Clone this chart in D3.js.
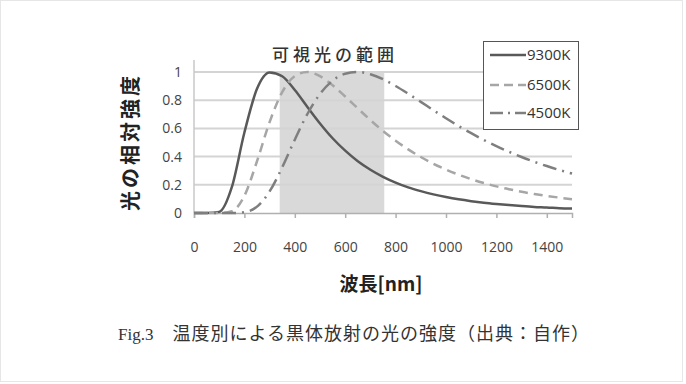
<!DOCTYPE html>
<html>
<head>
<meta charset="utf-8">
<script src="https://cdn.jsdelivr.net/npm/d3@7"></script>
<style>
  body { margin: 0; background: #fff; }
  svg { display: block; font-family: "Noto Sans CJK JP", "Noto Sans", sans-serif; }
</style>
</head>
<body>
<svg id="chart" width="686" height="384"></svg>
<script>
// wavelength [nm], every 50 nm
const wavelengths = [0, 50, 100, 150, 200, 250, 300, 350, 400, 450, 500, 550, 600, 650, 700, 750,
  800, 850, 900, 950, 1000, 1050, 1100, 1150, 1200, 1250, 1300, 1350, 1400, 1450, 1500];

const k9300 = [0, 0, 0.008, 0.183, 0.571, 0.881, 0.997, 0.970, 0.872, 0.752, 0.635, 0.530, 0.442, 0.367, 0.307, 0.257,
  0.216, 0.182, 0.155, 0.132, 0.113, 0.097, 0.084, 0.073, 0.064, 0.056, 0.049, 0.043, 0.039, 0.034, 0.031];
const k6500 = [0, 0, 0, 0.013, 0.122, 0.367, 0.645, 0.857, 0.971, 1.000, 0.970, 0.906, 0.826, 0.742, 0.659, 0.582,
  0.513, 0.451, 0.397, 0.349, 0.308, 0.272, 0.240, 0.213, 0.189, 0.169, 0.150, 0.135, 0.121, 0.109, 0.098];
const k4500 = [0, 0, 0, 0, 0.006, 0.045, 0.153, 0.324, 0.520, 0.702, 0.844, 0.939, 0.988, 1.000, 0.984, 0.949,
  0.901, 0.846, 0.788, 0.729, 0.672, 0.617, 0.566, 0.518, 0.474, 0.434, 0.397, 0.363, 0.333, 0.305, 0.280];

const seriesNames = ['9300K', '6500K', '4500K'];
const xTicks = [0, 200, 400, 600, 800, 1000, 1200, 1400];
const yTicks = [0, 0.2, 0.4, 0.6, 0.8, 1];
const visibleBand = [340, 755];

const svg = d3.select('#chart');

// faint frame of the picture
svg.append('rect')
  .attr('x', 0.5).attr('y', 0.5)
  .attr('width', 682).attr('height', 381)
  .attr('fill', 'none')
  .attr('stroke', '#e6e6e6');

const x = d3.scaleLinear().domain([0, 1500]).range([194, 572]);
const y = d3.scaleLinear().domain([0, 1]).range([213, 72]);

// visible band
svg.append('rect')
  .attr('x', x(visibleBand[0]))
  .attr('y', y(1))
  .attr('width', x(visibleBand[1]) - x(visibleBand[0]))
  .attr('height', y(0) - y(1))
  .attr('fill', '#d9d9d9');

// grid lines
svg.append('g')
  .selectAll('line')
  .data(yTicks.filter(d => d > 0))
  .join('line')
    .attr('x1', x(0)).attr('x2', x(1500))
    .attr('y1', d => y(d)).attr('y2', d => y(d))
    .attr('stroke', '#d4d4d4')
    .attr('stroke-width', 2);

// y axis line
svg.append('line')
  .attr('x1', x(0)).attr('x2', x(0))
  .attr('y1', 60).attr('y2', y(0))
  .attr('stroke', '#c8c8c8')
  .attr('stroke-width', 1.5);

// x axis
const xAxis = svg.append('g')
  .attr('transform', `translate(0, ${y(0)})`)
  .call(d3.axisBottom(x).tickValues(xTicks).tickSize(5).tickPadding(24).tickFormat(d3.format('d')));
xAxis.select('.domain').attr('stroke', '#b0b0b0').attr('stroke-width', 1.5);
xAxis.selectAll('.tick line').attr('stroke', '#b0b0b0').attr('stroke-width', 1.5);
xAxis.selectAll('text')
  .attr('fill', '#444')
  .style('font-size', '14px')
  .style('font-family', '"Open Sans", "Noto Sans", sans-serif');

// y labels
const yAxis = svg.append('g')
  .attr('transform', `translate(${x(0)}, 0)`)
  .call(d3.axisLeft(y).tickValues(yTicks).tickSize(0).tickPadding(12).tickFormat(d3.format('~g')));
yAxis.select('.domain').remove();
yAxis.selectAll('text')
  .attr('fill', '#444')
  .style('font-size', '14px')
  .style('font-family', '"Open Sans", "Noto Sans", sans-serif');

// curves
const line = d3.line()
  .x((d, i) => x(wavelengths[i]))
  .y(d => y(d))
  .curve(d3.curveMonotoneX);

const styles = [
  { data: k9300, color: '#595959', dash: null, legendDash: null, width: 2.5 },
  { data: k6500, color: '#a6a6a6', dash: '9,6', legendDash: '9,5', width: 2.5 },
  { data: k4500, color: '#7f7f7f', dash: '14,6,2,6', legendDash: '13,5,2,5', width: 2.5 }
];

svg.append('g')
  .selectAll('path')
  .data(styles)
  .join('path')
    .attr('d', d => line(d.data))
    .attr('fill', 'none')
    .attr('stroke', d => d.color)
    .attr('stroke-width', d => d.width)
    .attr('stroke-dasharray', d => d.dash);

// band title
svg.append('text')
  .attr('x', 335).attr('y', 61)
  .attr('text-anchor', 'middle')
  .attr('fill', '#333')
  .style('font-size', '17px')
  .style('letter-spacing', '4px')
  .style('font-weight', 500)
  .text('可視光の範囲');

// legend
const legend = svg.append('g');
legend.append('rect')
  .attr('x', 483.5).attr('y', 41.5)
  .attr('width', 95).attr('height', 88)
  .attr('fill', '#fff')
  .attr('stroke', '#555');
const legendY = [55, 85, 113];
const item = legend.selectAll('g.item')
  .data(styles)
  .join('g')
    .attr('class', 'item')
    .attr('transform', (d, i) => `translate(0, ${legendY[i]})`);
item.append('line')
  .attr('x1', 490).attr('x2', 526)
  .attr('stroke', d => d.color)
  .attr('stroke-width', d => d.width)
  .attr('stroke-dasharray', d => d.legendDash);
item.append('text')
  .attr('x', 527).attr('dy', '0.35em')
  .attr('fill', '#333')
  .style('font-size', '15px')
  .style('font-family', '"Open Sans", "Noto Sans", sans-serif')
  .text((d, i) => seriesNames[i]);

// axis titles
svg.append('text')
  .attr('transform', 'translate(138, 142) rotate(-90)')
  .attr('text-anchor', 'middle')
  .attr('fill', '#222')
  .style('font-size', '20px')
  .style('font-weight', 'bold')
  .style('letter-spacing', '3px')
  .text('光の相対強度');

svg.append('text')
  .attr('x', 381).attr('y', 291)
  .attr('text-anchor', 'middle')
  .attr('fill', '#222')
  .style('font-size', '19px')
  .style('font-weight', 'bold')
  .text('波長[nm]');

// caption
const cap = svg.append('text')
  .attr('x', 118).attr('y', 340)
  .attr('fill', '#333')
  .style('font-size', '18px');
cap.append('tspan')
  .style('font-family', '"Liberation Serif", serif')
  .style('font-size', '17px')
  .text('Fig.3');
cap.append('tspan')
  .attr('dx', 19)
  .style('letter-spacing', '1px')
  .text('温度別による黒体放射の光の強度（出典：自作）');
</script>
</body>
</html>
